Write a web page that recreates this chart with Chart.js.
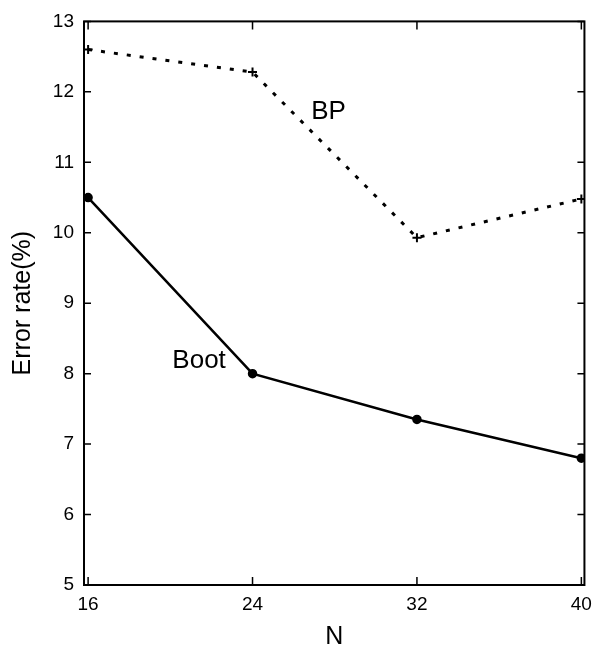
<!DOCTYPE html>
<html>
<head>
<meta charset="utf-8">
<script src="https://cdn.jsdelivr.net/npm/chart.js@4"></script>
<style>
  html, body { margin: 0; padding: 0; background: #fff; }
</style>
</head>
<body>
<canvas id="errChart" width="600" height="655"></canvas>
<script>
const nValues = [16, 24, 32, 40]
const bootRate = [10.5, 8.0, 7.35, 6.8]
const bpRate = [12.6, 12.28, 9.93, 10.48]
const xTicks = [16, 24, 32, 40]
const yTicks = [5, 6, 7, 8, 9, 10, 11, 12, 13]

// curve names written inside the plot, placed in data units
const curveNames = ['BP', 'Boot']
const nameAtN = [27.7, 21.4]
const nameAtRate = [11.72, 8.18]

const fontFamily = '"Liberation Sans", Arial, Helvetica, sans-serif'

const framePlugin = {
    id: 'frame',
    afterDraw(chart) {
        const ctx = chart.ctx
        const a = chart.chartArea
        const xs = chart.scales.x
        const ys = chart.scales.y
        ctx.save()
        ctx.strokeStyle = '#000'
        ctx.lineWidth = 2
        ctx.strokeRect(a.left, a.top, a.right - a.left, a.bottom - a.top)

        // inward tick marks on all four sides
        ctx.lineWidth = 1.5
        ctx.beginPath()
        xTicks.forEach(v => {
            const px = xs.getPixelForValue(v)
            ctx.moveTo(px, a.bottom)
            ctx.lineTo(px, a.bottom - 8)
            ctx.moveTo(px, a.top)
            ctx.lineTo(px, a.top + 8)
        })
        yTicks.forEach(v => {
            const py = ys.getPixelForValue(v)
            ctx.moveTo(a.left, py)
            ctx.lineTo(a.left + 7, py)
            ctx.moveTo(a.right, py)
            ctx.lineTo(a.right - 7, py)
        })
        ctx.stroke()

        ctx.fillStyle = '#000'
        ctx.font = '26px ' + fontFamily
        ctx.textAlign = 'center'
        ctx.textBaseline = 'middle'
        curveNames.forEach((name, i) => {
            ctx.fillText(name, xs.getPixelForValue(nameAtN[i]), ys.getPixelForValue(nameAtRate[i]))
        })
        ctx.restore()
    }
}

const errChart = new Chart(document.getElementById('errChart'), {
    type: 'scatter',
    data: {
        datasets: [
            {
                label: 'BP',
                data: nValues.map((n, i) => ({ x: n, y: bpRate[i] })),
                showLine: true,
                borderColor: '#000',
                backgroundColor: '#000',
                borderWidth: 3,
                borderDash: [4, 9],
                pointStyle: 'cross',
                pointRadius: 4.5,
                pointBorderWidth: 2
            },
            {
                label: 'Boot',
                data: nValues.map((n, i) => ({ x: n, y: bootRate[i] })),
                showLine: true,
                borderColor: '#000',
                backgroundColor: '#000',
                borderWidth: 2.5,
                pointStyle: 'circle',
                pointRadius: 3.5
            }
        ]
    },
    options: {
        responsive: false,
        animation: false,
        layout: { padding: { left: 0, right: 13, top: 13, bottom: 0 } },
        plugins: {
            legend: { display: false },
            tooltip: { enabled: false }
        },
        scales: {
            x: {
                type: 'linear',
                min: 15.8,
                max: 40.15,
                afterBuildTicks: scale => { scale.ticks = xTicks.map(v => ({ value: v })) },
                afterFit: scale => { scale.height = 70 },
                grid: { display: false, drawTicks: false },
                border: { display: false },
                ticks: {
                    color: '#000',
                    padding: 8,
                    maxRotation: 0,
                    font: { family: fontFamily, size: 19 }
                },
                title: {
                    display: true,
                    text: 'N',
                    color: '#000',
                    padding: { top: 0, bottom: 3 },
                    font: { family: fontFamily, size: 25 }
                }
            },
            y: {
                type: 'linear',
                min: 5,
                max: 13,
                afterBuildTicks: scale => { scale.ticks = yTicks.map(v => ({ value: v })) },
                afterFit: scale => { scale.width = 84 },
                grid: { display: false, drawTicks: false },
                border: { display: false },
                ticks: {
                    color: '#000',
                    padding: 10,
                    font: { family: fontFamily, size: 19 }
                },
                title: {
                    display: true,
                    text: 'Error rate(%)',
                    color: '#000',
                    padding: { top: 8, bottom: 0 },
                    font: { family: fontFamily, size: 25 }
                }
            }
        }
    },
    plugins: [framePlugin]
})
</script>
</body>
</html>
